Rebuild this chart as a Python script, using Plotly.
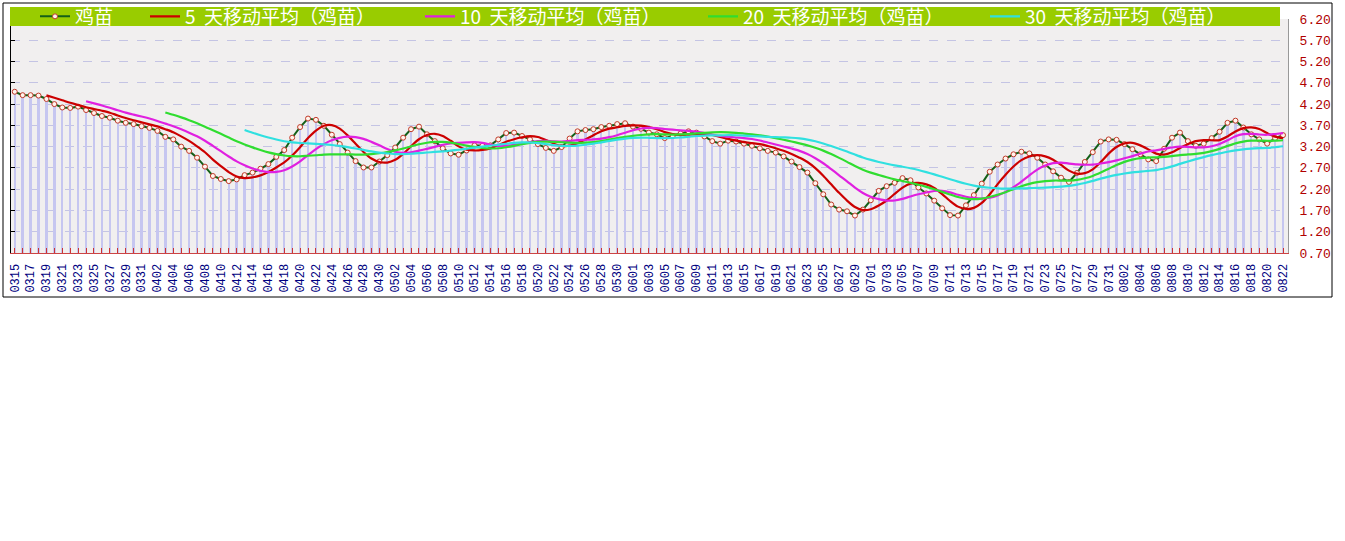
import pandas as pd
import plotly.graph_objects as go

# ---- data ----
start_date = "2021-03-15"
price = [
    4.49, 4.41, 4.41, 4.40, 4.32, 4.20, 4.12, 4.11, 4.14, 4.06,
    3.99, 3.92, 3.88, 3.81, 3.76, 3.73, 3.68, 3.64, 3.57, 3.43,
    3.37, 3.20, 3.10, 2.94, 2.73, 2.51, 2.44, 2.39, 2.43, 2.53,
    2.59, 2.68, 2.79, 2.96, 3.12, 3.41, 3.66, 3.86, 3.83, 3.69,
    3.48, 3.26, 3.06, 2.86, 2.71, 2.71, 2.85, 3.00, 3.18, 3.41,
    3.61, 3.67, 3.49, 3.33, 3.16, 3.04, 3.01, 3.11, 3.23, 3.22,
    3.23, 3.37, 3.52, 3.53, 3.45, 3.37, 3.26, 3.17, 3.10, 3.19,
    3.39, 3.56, 3.59, 3.61, 3.66, 3.69, 3.73, 3.75, 3.67, 3.62,
    3.53, 3.49, 3.40, 3.45, 3.51, 3.56, 3.53, 3.44, 3.33, 3.27,
    3.34, 3.32, 3.27, 3.22, 3.16, 3.10, 3.06, 2.97, 2.85, 2.72,
    2.59, 2.34, 2.08, 1.84, 1.72, 1.68, 1.58, 1.72, 1.94, 2.16,
    2.27, 2.35, 2.46, 2.41, 2.24, 2.10, 1.93, 1.75, 1.59, 1.58,
    1.82, 2.06, 2.33, 2.61, 2.78, 2.92, 3.02, 3.08, 3.04, 2.94,
    2.78, 2.62, 2.47, 2.37, 2.58, 2.84, 3.07, 3.32, 3.37, 3.36,
    3.26, 3.14, 3.02, 2.90, 2.86, 3.15, 3.41, 3.53, 3.33, 3.22,
    3.27, 3.40, 3.55, 3.76, 3.81, 3.65, 3.49, 3.37, 3.27, 3.40,
    3.47,
]
ma_windows = [5, 10, 20, 30]
series_names = ["鸡苗", "5  天移动平均（鸡苗）", "10  天移动平均（鸡苗）",
                "20  天移动平均（鸡苗）", "30  天移动平均（鸡苗）"]
y_ticks = [0.70, 1.20, 1.70, 2.20, 2.70, 3.20, 3.70, 4.20, 4.70, 5.20, 5.70, 6.20]

dates = pd.date_range(start_date, periods=len(price))
day_labels = [d.strftime("%m%d") for d in dates]
x = list(range(len(price)))
s = pd.Series(price)
mas = [s.rolling(w).mean().round(3).tolist() for w in ma_windows]

# ---- styling ----
W, H = 1345, 541
L, R, T, B = 11, 57, 19, 288
pw, ph = W - L - R, H - T - B


def px_x(p):
    return (p - L) / pw


def px_y(p):
    return (H - B - p) / ph


ma_colors = ["#cc0000", "#e020e0", "#30dd30", "#30e0e0"]
legend_x_px = [35, 145, 420, 703, 985]

fig = go.Figure()
fig.add_trace(go.Bar(x=x, y=price, marker=dict(color="#c6c6f0", line=dict(width=0)),
                     width=0.3, showlegend=False, hoverinfo="skip"))
fig.add_trace(go.Scatter(x=x, y=price, mode="lines+markers", name=series_names[0],
                         line=dict(color="#146018", width=2),
                         marker=dict(symbol="circle", size=5, color="#fff4ec",
                                     line=dict(color="#c03a2a", width=1)),
                         legend="legend"))
for k, (vals, col) in enumerate(zip(mas, ma_colors)):
    fig.add_trace(go.Scatter(x=x, y=vals, mode="lines", name=series_names[k + 1],
                             line=dict(color=col, width=2.2, shape="spline", smoothing=0.8),
                             legend="legend" + str(k + 2)))
# invisible trace for the left axis
fig.add_trace(go.Scatter(x=[0], y=[3], yaxis="y2", mode="markers",
                         marker=dict(opacity=0), showlegend=False, hoverinfo="skip"))

legend_common = dict(orientation="h", xanchor="left", yanchor="middle",
                     y=px_y(16.5), bgcolor="rgba(0,0,0,0)", borderwidth=0,
                     font=dict(family="Noto Sans CJK SC", size=19, color="#ffffff"))
legends = {}
for k, lx in enumerate(legend_x_px):
    key = "legend" if k == 0 else "legend" + str(k + 1)
    legends[key] = dict(legend_common, x=px_x(lx))

fig.update_layout(
    width=W, height=H,
    margin=dict(l=L, r=R, t=T, b=B, autoexpand=False),
    paper_bgcolor="#ffffff",
    plot_bgcolor="#f1efef",
    bargap=0,
    showlegend=True,
    xaxis=dict(
        range=[-0.47, len(price) - 1 + 0.63],
        tickmode="array", tickvals=x,
        ticktext=[lab if i % 2 == 0 else "" for i, lab in enumerate(day_labels)],
        tickangle=-90, ticks="inside", ticklen=5, tickcolor="#cc3333", tickwidth=1,
        showline=True, linecolor="#cc4444", linewidth=1,
        showgrid=False, zeroline=False, ticklabelstandoff=5,
        tickfont=dict(family="Liberation Mono", size=12, color="#000080"),
    ),
    yaxis=dict(
        range=[0.70, 6.20], side="right",
        tickmode="array", tickvals=y_ticks, ticktext=["%.2f" % v for v in y_ticks],
        ticks="", showline=True, linecolor="#999999", linewidth=1,
        showgrid=True, gridcolor="#c4c4e4", griddash="dash", gridwidth=1,
        zeroline=False, ticklabelstandoff=8,
        tickfont=dict(family="Liberation Mono", size=13, color="#b00000"),
    ),
    yaxis2=dict(
        range=[0.70, 6.20], overlaying="y", side="left", matches="y",
        tickmode="array", tickvals=y_ticks, showticklabels=False,
        ticks="inside", ticklen=4, tickcolor="#000000",
        showline=True, linecolor="#000000", linewidth=1, showgrid=False, zeroline=False,
    ),
    shapes=[
        dict(type="rect", xref="paper", yref="paper",
             x0=px_x(10), x1=px_x(1280), y0=px_y(26), y1=px_y(7),
             fillcolor="#99cc00", line=dict(width=0), layer="above"),
        dict(type="rect", xref="paper", yref="paper",
             x0=px_x(3), x1=px_x(1332), y0=px_y(297), y1=px_y(3),
             fillcolor="rgba(0,0,0,0)", line=dict(color="#000000", width=1), layer="above"),
    ],
    **legends,
)

fig.write_html("out.html", config={"displayModeBar": False},
               post_script="document.body.style.margin='0';")
